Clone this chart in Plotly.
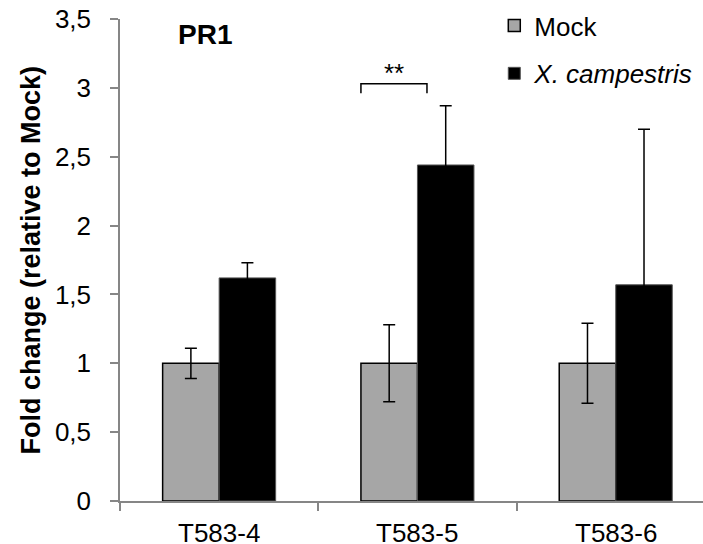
import plotly.graph_objects as go

categories = ["T583-4", "T583-5", "T583-6"]
mock_values = [1.0, 1.0, 1.0]
mock_errors = [0.11, 0.28, 0.29]
xc_values = [1.62, 2.44, 1.57]
xc_errors = [0.11, 0.43, 1.13]
y_tickvals = [0, 0.5, 1, 1.5, 2, 2.5, 3, 3.5]
y_ticktext = ["0", "0,5", "1", "1,5", "2", "2,5", "3", "3,5"]

# significance bracket (data units)
sig_x0, sig_x1 = 0.715, 1.048
sig_y, sig_drop = 3.03, 0.07
sig_label = "**"

FONT = "Arial, Liberation Sans, sans-serif"
AXIS_GRAY = "#868686"
FS = 26

fig = go.Figure()
fig.add_trace(go.Bar(
    name="Mock", x=categories, y=mock_values,
    marker=dict(color="#a6a6a6", line=dict(color="black", width=1.5)),
    error_y=dict(type="data", array=mock_errors, color="black", thickness=1.5, width=6),
    legendgroup="a",
))
fig.add_trace(go.Bar(
    name="<i>X. campestris</i>", x=categories, y=xc_values,
    marker=dict(color="black", line=dict(color="#555555", width=1)),
    error_y=dict(type="data", array=xc_errors, color="black", thickness=1.5, width=6),
    legendgroup="b",
))

# bracket
fig.add_shape(type="path",
              path=f"M {sig_x0} {sig_y - sig_drop} L {sig_x0} {sig_y} L {sig_x1} {sig_y} L {sig_x1} {sig_y - sig_drop}",
              xref="x", yref="y", line=dict(color="black", width=1.5))
fig.add_annotation(x=(sig_x0 + sig_x1) / 2, y=sig_y, xref="x", yref="y", text=sig_label,
                   showarrow=False, xanchor="center", yanchor="bottom", yshift=-6,
                   font=dict(size=FS, color="black", family=FONT))

fig.add_annotation(x=0.145, y=0.967, xref="paper", yref="paper", text="<b>PR1</b>",
                   showarrow=False, xanchor="center", yanchor="middle",
                   font=dict(size=28, color="black", family=FONT))

fig.add_annotation(x=-0.1534, y=0.5, xref="paper", yref="paper",
                   text="<b>Fold change (relative to Mock)</b>", textangle=-90,
                   showarrow=False, xanchor="center", yanchor="middle",
                   font=dict(size=27, color="black", family=FONT))

# category labels drawn at the category positions, just below the axis
for cat in categories:
    fig.add_annotation(x=cat, y=-0.0664, xref="x", yref="paper", text=cat,
                       showarrow=False, xanchor="center", yanchor="middle",
                       height=24, valign="middle",
                       font=dict(size=FS, color="black", family=FONT))

fig.update_layout(
    width=703, height=544,
    margin=dict(l=119.5, r=0, t=19, b=43),
    paper_bgcolor="white", plot_bgcolor="white",
    barmode="group", bargap=0.43, bargroupgap=0,
    font=dict(family=FONT, size=FS, color="black"),
    showlegend=True,
    legend=dict(x=0.642, y=1.035, xanchor="left", yanchor="top", bgcolor="rgba(0,0,0,0)",
                font=dict(size=FS, family=FONT), itemwidth=30, tracegroupgap=11,
                traceorder="grouped"),
)
fig.update_xaxes(
    range=[-0.5, 2.44], showline=True, linecolor=AXIS_GRAY, linewidth=1.5,
    ticks="outside", tickson="boundaries", ticklen=8, tickcolor=AXIS_GRAY, tickwidth=1.5,
    showgrid=False, zeroline=False, showticklabels=False,
)
fig.update_yaxes(
    range=[0, 3.5], tickvals=y_tickvals, ticktext=y_ticktext,
    showline=True, linecolor=AXIS_GRAY, linewidth=1.5,
    ticks="outside", ticklen=8, tickcolor=AXIS_GRAY, tickwidth=1.5,
    showgrid=False, zeroline=False, ticklabelstandoff=14,
    tickfont=dict(size=FS, family=FONT, color="black"),
)

fig.write_html("out.html", config={"displayModeBar": False},
               post_script="document.body.style.margin='0';document.body.style.overflow='hidden';")
